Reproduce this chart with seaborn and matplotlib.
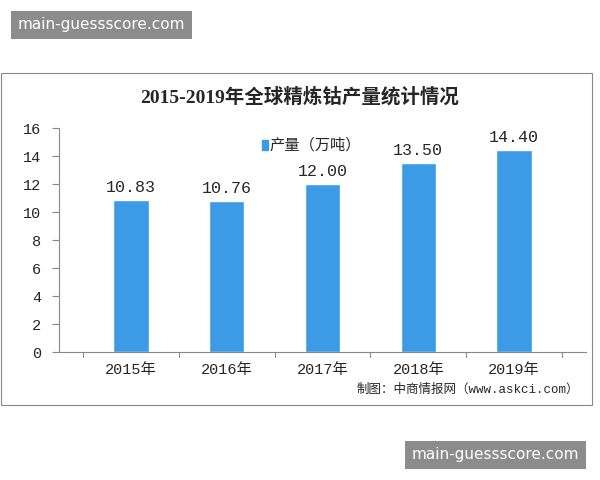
import matplotlib
matplotlib.use("Agg")
import matplotlib.pyplot as plt
import seaborn as sns
import pandas as pd
from matplotlib.patches import Rectangle

years = ["2015年", "2016年", "2017年", "2018年", "2019年"]
output = [10.83, 10.76, 12.00, 13.50, 14.40]
yticks = [0, 2, 4, 6, 8, 10, 12, 14, 16]

sns.set_style("white")
plt.rcParams['font.family'] = ['Liberation Mono', 'Noto Sans CJK SC', 'DejaVu Sans']

df = pd.DataFrame({"year": years, "val": output})
fig = plt.figure(figsize=(6, 4.8), dpi=100)
fig.patches.append(Rectangle((1/600, 1-405/480), 591/600, 332/480, transform=fig.transFigure,
                             fill=False, edgecolor="#888888", lw=0.8))
ax = fig.add_axes([59/600, 1-352/480, 527/600, 224/480])
sns.barplot(data=df, x="year", y="val", color="#3b9be6", width=0.37, saturation=1, ax=ax)
ax.set_ylim(0, 16)
ax.set_yticks(yticks)
ax.set_xlabel("")
ax.set_ylabel("")
for s in ["top", "right"]:
    ax.spines[s].set_visible(False)
for s in ["left", "bottom"]:
    ax.spines[s].set_color("#888888")
ax.tick_params(axis="y", length=5, color="#888888", labelsize=11, left=True, pad=8)
ax.tick_params(axis="x", length=0, labelsize=11, pad=8)
for i in range(len(years) + 1):
    ax.plot([i - 0.5, i - 0.5], [0, -0.35], color="#888888", lw=0.8, clip_on=False)
for i, v in enumerate(output):
    ax.text(i, v + 0.35, f"{v:.2f}", ha="center", va="bottom", fontsize=12)
ax.add_patch(Rectangle((0.385, 0.9), 0.012, 0.045, transform=ax.transAxes, color="#3b9be6", clip_on=False))
ax.text(0.400, 0.922, "产量（万吨）", transform=ax.transAxes, va="center", fontsize=11)
fig.text(0.5, 1-97/480, "2015-2019年全球精炼钴产量统计情况", ha="center", va="center",
         fontsize=14, fontweight="bold", family=['Liberation Serif', 'Noto Sans CJK SC'])
fig.text(0.965, 1-390/480, "制图：中商情报网（www.askci.com）", ha="right", va="center", fontsize=9)
fig.text(0.03, 1-25/480, "main-guessscore.com", ha="left", va="center", fontsize=11, color="white",
         family="DejaVu Sans", bbox=dict(facecolor="#8c8c8c", edgecolor="none", pad=5))
fig.text(0.965, 1-455/480, "main-guessscore.com", ha="right", va="center", fontsize=11, color="white",
         family="DejaVu Sans", bbox=dict(facecolor="#8c8c8c", edgecolor="none", pad=5))
fig.savefig("out.png", dpi=100)
